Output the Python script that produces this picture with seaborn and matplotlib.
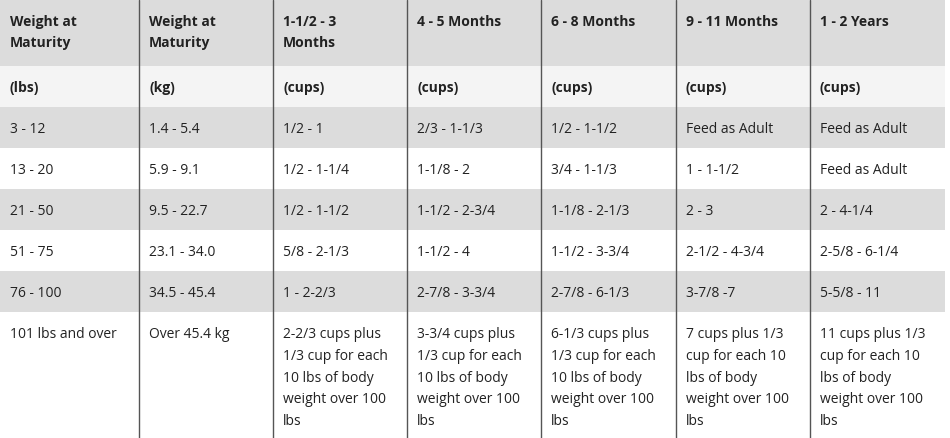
import matplotlib

matplotlib.use("Agg")
import matplotlib.pyplot as plt
import seaborn as sns

sns.set_style("white")
plt.rcParams["font.family"] = ["Open Sans", "DejaVu Sans"]

headers = ["Weight at\nMaturity", "Weight at\nMaturity", "1-1/2 - 3\nMonths", "4 - 5 Months",
           "6 - 8 Months", "9 - 11 Months", "1 - 2 Years"]
units = ["(lbs)", "(kg)", "(cups)", "(cups)", "(cups)", "(cups)", "(cups)"]
rows = [
    ["3 - 12", "1.4 - 5.4", "1/2 - 1", "2/3 - 1-1/3", "1/2 - 1-1/2", "Feed as Adult", "Feed as Adult"],
    ["13 - 20", "5.9 - 9.1", "1/2 - 1-1/4", "1-1/8 - 2", "3/4 - 1-1/3", "1 - 1-1/2", "Feed as Adult"],
    ["21 - 50", "9.5 - 22.7", "1/2 - 1-1/2", "1-1/2 - 2-3/4", "1-1/8 - 2-1/3", "2 - 3", "2 - 4-1/4"],
    ["51 - 75", "23.1 - 34.0", "5/8 - 2-1/3", "1-1/2 - 4", "1-1/2 - 3-3/4", "2-1/2 - 4-3/4", "2-5/8 - 6-1/4"],
    ["76 - 100", "34.5 - 45.4", "1 - 2-2/3", "2-7/8 - 3-3/4", "2-7/8 - 6-1/3", "3-7/8 -7", "5-5/8 - 11"],
    ["101 lbs and over", "Over 45.4 kg",
     "2-2/3 cups plus\n1/3 cup for each\n10 lbs of body\nweight over 100\nlbs",
     "3-3/4 cups plus\n1/3 cup for each\n10 lbs of body\nweight over 100\nlbs",
     "6-1/3 cups plus\n1/3 cup for each\n10 lbs of body\nweight over 100\nlbs",
     "7 cups plus 1/3\ncup for each 10\nlbs of body\nweight over 100\nlbs",
     "11 cups plus 1/3\ncup for each 10\nlbs of body\nweight over 100\nlbs"],
]

col_edges = [0, 139, 273, 407, 541, 676, 810, 945]
row_edges = [0, 66, 107, 148, 189, 230, 271, 312, 438]
row_colors = ["#dcdcdc", "#f4f4f4", "#dcdcdc", "#ffffff", "#dcdcdc", "#ffffff", "#dcdcdc", "#ffffff"]

fig = plt.figure(figsize=(9.5, 4.38), dpi=100)
ax = fig.add_axes([0, 0, 1, 1])
ax.set_xlim(0, 950)
ax.set_ylim(438, 0)
ax.axis("off")

for i, c in enumerate(row_colors):
    ax.axhspan(row_edges[i], row_edges[i + 1], xmin=0, xmax=col_edges[-1] / 950, color=c, lw=0)
for x in col_edges[1:-1]:
    ax.plot([x, x], [0, 438], color="#555555", lw=1)

all_rows = [headers, units] + rows
for r, vals in enumerate(all_rows):
    top = row_edges[r]
    for c, v in enumerate(vals):
        ax.text(col_edges[c] + 10, top + 15, v, ha="left", va="top", fontsize=10,
                color="#222222", linespacing=1.62,
                fontweight="bold" if r < 2 else "normal")

fig.savefig("out.png", dpi=100)
